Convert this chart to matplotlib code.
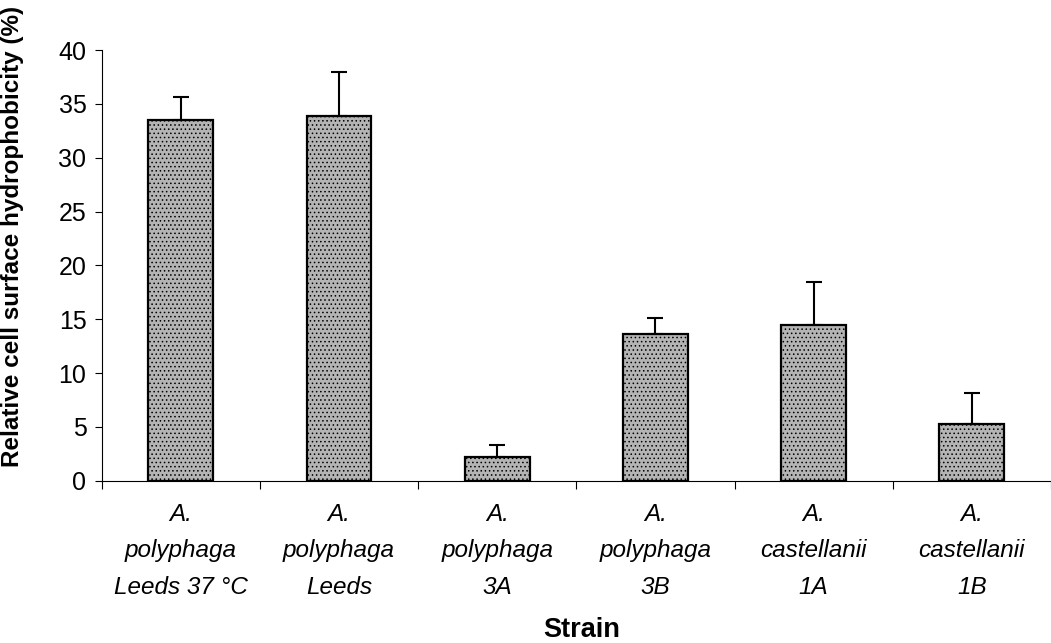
import matplotlib
matplotlib.use("Agg")
import matplotlib.pyplot as plt
import numpy as np

plt.rcParams['font.family'] = ['Liberation Sans', 'DejaVu Sans']
plt.rcParams['hatch.color'] = '#505050'
plt.rcParams['hatch.linewidth'] = 0.6

strains = ["A.\npolyphaga\nLeeds 37 °C", "A.\npolyphaga\nLeeds", "A.\npolyphaga\n3A",
           "A.\npolyphaga\n3B", "A.\ncastellanii\n1A", "A.\ncastellanii\n1B"]
values = [33.5, 33.9, 2.2, 13.6, 14.5, 5.3]
errors = [2.1, 4.1, 1.1, 1.5, 4.0, 2.8]
yticks = [0, 5, 10, 15, 20, 25, 30, 35, 40]

fig = plt.figure(figsize=(10.51, 6.43), dpi=100)
ax = fig.add_axes([101.7/1051, 1-480.7/643, 1-101.7/1051, (480.7-50)/643])

x = np.arange(len(strains))
ax.bar(x, values, width=0.41, color='#b4b4b4', edgecolor='black', linewidth=1.6,
       hatch='....',
       yerr=[np.zeros(len(errors)), errors], capsize=6,
       error_kw=dict(elinewidth=1.5, capthick=1.5, ecolor='black'), zorder=2)

ax.set_ylim(0, 40)
ax.set_xlim(-0.5, (1051-101.7)/160.3 - 0.5)
ax.set_yticks(yticks)
ax.tick_params(axis='y', labelsize=18, length=5, width=0.8, direction='out', pad=6)

ax.set_xticks(np.arange(len(strains)+1) - 0.5)
ax.set_xticklabels([])
ax.tick_params(axis='x', which='major', length=6, width=0.8, direction='out')
ax.set_xticks(x, minor=True)
ax.set_xticklabels(strains, minor=True, fontsize=17.5, style='italic', linespacing=1.75)
ax.tick_params(axis='x', which='minor', length=0, pad=16)

for s in ['top', 'right']:
    ax.spines[s].set_visible(False)
ax.spines['left'].set_linewidth(0.8)
ax.spines['bottom'].set_linewidth(0.8)

ax.set_ylabel("Relative cell surface hydrophobicity (%)", fontsize=17.5, fontweight='bold')
ax.yaxis.set_label_coords(-(101.7-24)/(1051-101.7), (480.7-236)/(480.7-50))
fig.text(582/1051, 1-630/643, "Strain", fontsize=19.5, fontweight='bold', ha='center', va='center')

fig.savefig("out.png", dpi=100)
